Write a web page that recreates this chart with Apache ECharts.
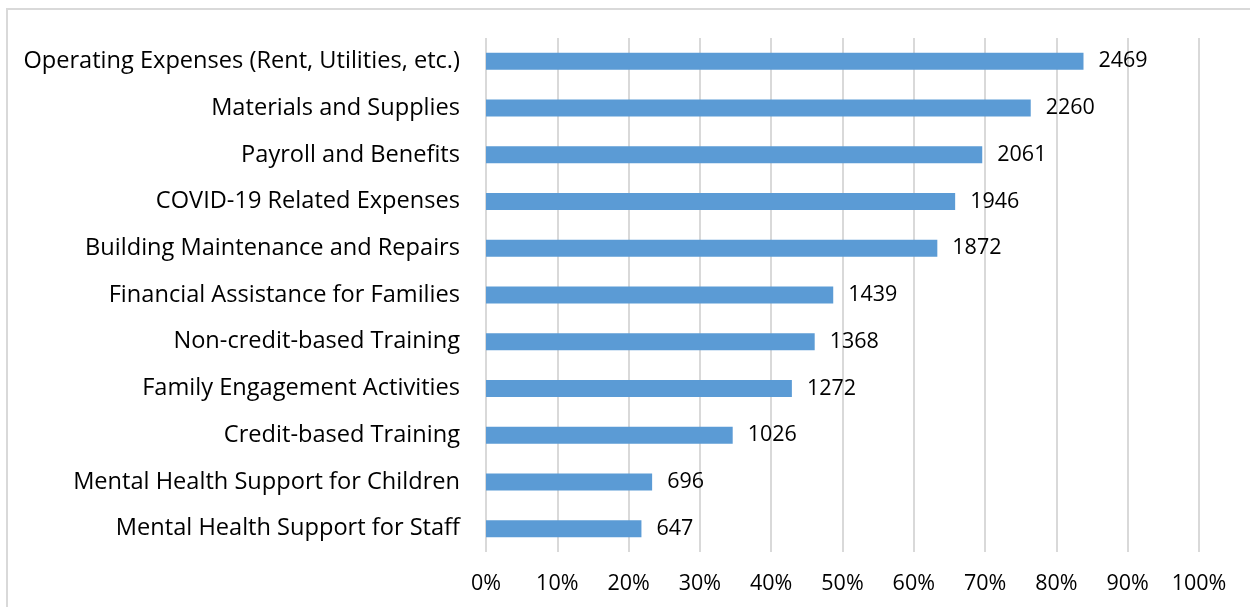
<!DOCTYPE html>
<html>
<head>
<meta charset="utf-8">
<script src="https://cdn.jsdelivr.net/npm/echarts@6/dist/echarts.min.js"></script>
<style>
html,body{margin:0;padding:0;background:#fff;}
#chart{width:1250px;height:607px;}
</style>
</head>
<body>
<div id="chart"></div>
<script>
const categories = [
  "Operating Expenses (Rent, Utilities, etc.)",
  "Materials and Supplies",
  "Payroll and Benefits",
  "COVID-19 Related Expenses",
  "Building Maintenance and Repairs",
  "Financial Assistance for Families",
  "Non-credit-based Training",
  "Family Engagement Activities",
  "Credit-based Training",
  "Mental Health Support for Children",
  "Mental Health Support for Staff"
];
const percentages = [83.8, 76.4, 69.6, 65.8, 63.3, 48.7, 46.1, 42.9, 34.6, 23.3, 21.8];
const counts = [2469, 2260, 2061, 1946, 1872, 1439, 1368, 1272, 1026, 696, 647];
const xTicks = [0, 10, 20, 30, 40, 50, 60, 70, 80, 90, 100];

const FONT = "Open Sans";
const chart = echarts.init(document.getElementById('chart'), null, {renderer: 'canvas'});
chart.setOption({
  animation: false,
  backgroundColor: '#ffffff',
  graphic: [{
    type: 'rect',
    shape: {x: 7, y: 9, width: 1260, height: 620},
    style: {fill: 'none', stroke: '#d9d9d9', lineWidth: 2},
    silent: true
  }],
  grid: {left: 486, right: 51, top: 38, bottom: 55, containLabel: false},
  xAxis: {
    type: 'value',
    min: xTicks[0],
    max: xTicks[xTicks.length - 1],
    interval: 10,
    axisLine: {show: false},
    axisTick: {show: false},
    splitLine: {show: true, lineStyle: {color: '#d9d9d9', width: 2}},
    axisLabel: {
      formatter: v => v + '%',
      color: '#000', fontFamily: FONT, fontSize: 21.5, margin: 21
    }
  },
  yAxis: {
    type: 'category',
    inverse: true,
    data: categories,
    axisLine: {show: false},
    axisTick: {show: false},
    axisLabel: {color: '#000', fontFamily: FONT, fontSize: 23.6, margin: 26, padding: [2, 0, 0, 0]}
  },
  series: [{
    type: 'bar',
    data: percentages.map((p, i) => ({value: p, count: counts[i]})),
    barWidth: 17,
    itemStyle: {color: '#5b9bd5'},
    label: {
      show: true,
      position: 'right',
      distance: 15,
      padding: [3, 0, 0, 0],
      formatter: p => String(counts[p.dataIndex]),
      color: '#000', fontFamily: FONT, fontSize: 21.5
    }
  }]
});
</script>
</body>
</html>
